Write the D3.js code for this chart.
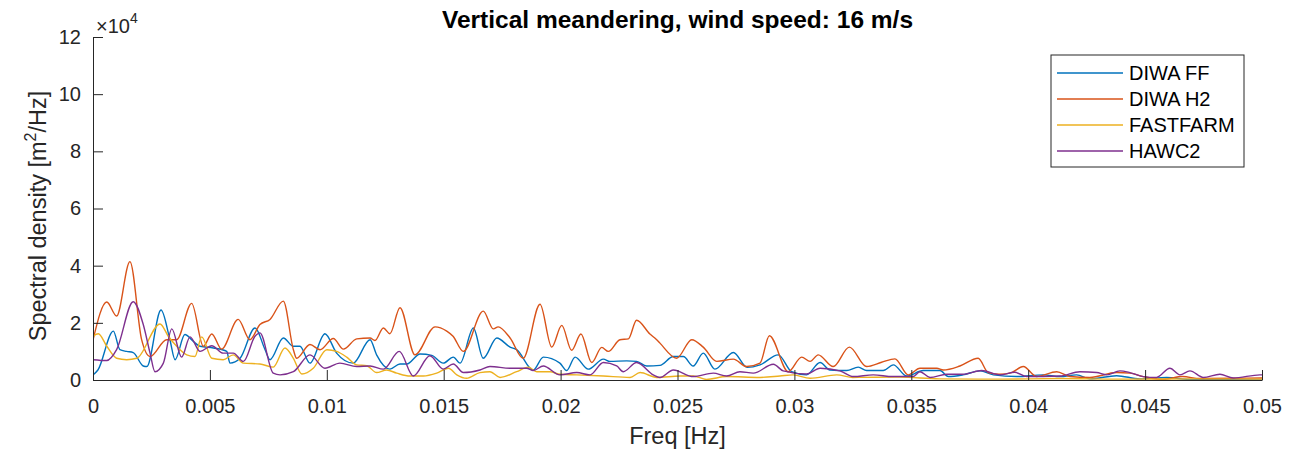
<!DOCTYPE html>
<html>
<head>
<meta charset="utf-8">
<script src="https://cdn.jsdelivr.net/npm/d3@7"></script>
<style>
  body { margin: 0; background: #fff; }
  svg { font-family: "Liberation Sans", Arial, sans-serif; }
</style>
</head>
<body>
<div id="chart"></div>
<script>
// frequencies in mHz, spectral density in units of 1e4 m^2/Hz
const seriesNames = ['DIWA FF', 'DIWA H2', 'FASTFARM', 'HAWC2'];
const seriesColors = ['#0072BD', '#D95319', '#EDB120', '#7E2F8E'];

const diwaFF = [
  [0, 0.18], [0.21, 0.35], [0.87, 1.71], [1.15, 1.06], [1.44, 1.0], [1.72, 0.96], [2.15, 0.49], [2.3, 0.47],
  [2.91, 2.45], [3.29, 1.41], [3.51, 0.71], [3.93, 1.59], [4.29, 1.35], [4.58, 1.18], [5.15, 1.12], [5.72, 1.0],
  [5.86, 0.59], [6.29, 0.76], [6.93, 1.82], [7.36, 1.06], [7.57, 0.71], [8.14, 1.47], [8.57, 1.18], [8.85, 1.18],
  [9.28, 0.59], [9.92, 1.62], [10.42, 0.94], [11.13, 0.59], [11.85, 1.41], [12.13, 0.88], [12.7, 0.38], [13.13, 0.56],
  [13.42, 0.56], [13.99, 0.91], [14.49, 0.86], [14.98, 0.59], [15.41, 0.8], [15.7, 0.59], [16.27, 1.82], [16.69, 0.76],
  [17.27, 1.47], [17.84, 1.15], [18.12, 1.06], [18.83, 0.35], [19.26, 0.8], [19.97, 0.59], [20.26, 0.33], [20.62, 0.8],
  [21.18, 0.38], [21.83, 0.73], [22.11, 0.65], [22.83, 0.67], [23.25, 0.65], [23.68, 0.49], [24.25, 0.51], [24.82, 0.82],
  [25.25, 0.82], [25.67, 0.49], [26.1, 0.94], [26.6, 0.38], [27.39, 0.96], [27.98, 0.44], [28.53, 0.53], [29.31, 0.88],
  [29.88, 0.29], [30.52, 0.18], [31.1, 0.61], [31.52, 0.35], [32.24, 0.33], [32.73, 0.45], [33.09, 0.33], [33.8, 0.33],
  [34.23, 0.53], [34.8, 0.14], [35.51, 0.33], [36.23, 0.33], [36.58, 0.12], [37.21, 0.18], [37.94, 0.32], [38.51, 0.18],
  [39.51, 0.12], [40.64, 0.18], [41.36, 0.12], [42.07, 0.18], [42.64, 0.04], [43.78, 0.15], [44.78, 0.04], [45.92, 0.09],
  [46.9, 0.02], [50, 0.0]
];

const diwaH2 = [
  [0, 1.4], [0.59, 2.73], [1.01, 2.24], [1.58, 4.14], [2.08, 1.41], [2.44, 0.82], [3.15, 1.41], [3.58, 1.41],
  [4.22, 2.68], [4.72, 1.18], [5.08, 1.61], [5.5, 1.08], [6.21, 2.12], [6.71, 1.41], [7.14, 1.94], [7.57, 2.12],
  [8.14, 2.76], [8.57, 1.06], [8.71, 0.76], [9.28, 1.24], [9.71, 1.06], [10.28, 1.45], [10.71, 1.08], [11.28, 1.44],
  [11.85, 1.47], [12.06, 1.38], [12.42, 1.82], [12.7, 1.62], [13.13, 2.53], [13.77, 0.88], [14.63, 1.86], [15.13, 1.71],
  [15.4, 1.53], [15.84, 1.0], [16.69, 2.41], [17.12, 1.79], [17.33, 1.86], [17.84, 1.47], [18.4, 0.76], [19.12, 2.65],
  [19.62, 1.15], [20.05, 1.91], [20.47, 1.04], [20.87, 1.61], [21.33, 0.61], [21.76, 1.14], [22.04, 1.0], [22.54, 1.41],
  [22.9, 1.44], [23.25, 2.09], [23.82, 1.61], [24.11, 1.41], [24.25, 1.29], [24.96, 0.76], [25.61, 1.41], [26.1, 1.15],
  [26.68, 0.65], [27.39, 0.73], [27.96, 0.47], [28.53, 0.59], [28.93, 1.55], [29.74, 0.29], [30.31, 0.8], [30.67, 0.65],
  [31.02, 0.88], [31.66, 0.47], [32.35, 1.15], [33.09, 0.47], [33.73, 0.62], [34.3, 0.74], [34.87, 0.18], [35.37, 0.41],
  [36.09, 0.41], [36.37, 0.35], [37.08, 0.49], [37.86, 0.76], [38.29, 0.26], [38.79, 0.2], [39.29, 0.26], [39.79, 0.47],
  [40.36, 0.12], [41.22, 0.29], [41.79, 0.12], [42.64, 0.09], [43.78, 0.26], [44.35, 0.24], [44.92, 0.12], [45.76, 0.02],
  [46.6, 0.12], [47.35, 0.05], [48.76, 0.06], [50, 0.07]
];

const fastFarm = [
  [0, 1.53], [0.23, 1.62], [0.59, 1.18], [1.01, 0.76], [1.44, 0.71], [1.87, 0.76], [2.87, 1.96], [3.22, 1.53],
  [3.58, 1.18], [4.01, 0.88], [4.36, 0.82], [4.65, 1.51], [5.08, 0.76], [5.57, 0.71], [6.0, 0.88], [6.43, 0.59],
  [7.14, 0.56], [7.71, 0.45], [8.21, 1.12], [8.57, 0.76], [8.93, 0.21], [9.42, 0.41], [10.0, 1.06], [10.42, 1.0],
  [10.85, 0.8], [11.28, 0.53], [11.71, 0.5], [12.13, 0.26], [12.56, 0.35], [12.99, 0.24], [13.56, 0.14], [14.13, 0.14],
  [14.7, 0.24], [15.2, 0.41], [15.56, 0.18], [15.98, 0.06], [16.55, 0.26], [16.98, 0.29], [17.41, 0.09], [18.12, 0.29],
  [18.62, 0.45], [18.98, 0.29], [19.55, 0.29], [19.97, 0.2], [20.69, 0.18], [21.83, 0.14], [22.97, 0.09], [23.4, 0.26],
  [24.11, 0.09], [25.11, 0.14], [25.67, 0.14], [26.24, 0.02], [27.1, 0.12], [28.53, 0.09], [29.38, 0.14], [29.95, 0.18],
  [30.67, 0.06], [31.81, 0.18], [32.5, 0.09], [34.5, 0.1], [36.2, 0.04], [38.8, 0.03], [41.4, 0.05], [43.9, 0.03],
  [47.3, 0.04], [50, 0.03]
];

const hawc2 = [
  [0, 0.71], [0.59, 0.68], [1.01, 1.06], [1.72, 2.74], [2.15, 1.94], [2.44, 0.94], [2.65, 0.29], [3.01, 0.59],
  [3.37, 1.79], [3.79, 0.8], [4.15, 1.51], [4.58, 1.0], [5.08, 1.2], [5.57, 0.94], [6.0, 0.94], [6.43, 0.65],
  [6.93, 1.53], [7.14, 1.65], [7.71, 0.24], [8.0, 0.18], [8.57, 0.29], [9.28, 0.88], [9.92, 0.41], [10.56, 0.59],
  [11.28, 0.47], [11.85, 0.49], [12.42, 0.38], [13.1, 1.0], [13.7, 0.14], [14.41, 0.85], [14.98, 0.38], [15.41, 0.56],
  [15.84, 0.26], [16.55, 0.35], [16.98, 0.47], [17.84, 0.41], [18.55, 0.41], [18.83, 0.33], [19.26, 0.49], [19.97, 0.18],
  [20.69, 0.26], [21.26, 0.18], [21.83, 0.61], [22.4, 0.49], [22.68, 0.29], [23.25, 0.61], [23.96, 0.18], [24.25, 0.09],
  [24.82, 0.35], [25.67, 0.12], [26.53, 0.24], [27.1, 0.14], [27.67, 0.29], [28.24, 0.24], [29.1, 0.55], [29.52, 0.32],
  [30.52, 0.21], [31.1, 0.41], [31.95, 0.32], [32.52, 0.12], [33.37, 0.18], [34.21, 0.12], [35.07, 0.12], [35.37, 0.29],
  [35.8, 0.09], [36.51, 0.2], [37.22, 0.2], [38.01, 0.33], [38.79, 0.18], [39.43, 0.27], [39.93, 0.12], [41.36, 0.14],
  [42.21, 0.29], [42.93, 0.26], [43.36, 0.18], [43.92, 0.32], [44.35, 0.26], [44.92, 0.12], [45.49, 0.09], [46.06, 0.41],
  [46.49, 0.18], [46.92, 0.32], [47.49, 0.09], [48.2, 0.2], [48.77, 0.07], [49.91, 0.18], [50, 0.18]
];

const xTicks = [0, 0.005, 0.01, 0.015, 0.02, 0.025, 0.03, 0.035, 0.04, 0.045, 0.05];
const yTicks = [0, 2, 4, 6, 8, 10, 12];

const allSeries = [diwaFF, diwaH2, fastFarm, hawc2];

const width = 1305;
const height = 450;
const margin = { top: 37, right: 43, bottom: 70, left: 93 };
const axisColor = '#262626';
const tickFont = 20;
const labelFont = 23.5;

const svg = d3.select('#chart').append('svg')
  .attr('width', width)
  .attr('height', height);

const x = d3.scaleLinear().domain([0, 0.05]).range([margin.left, width - margin.right]);
const y = d3.scaleLinear().domain([0, 12]).range([height - margin.bottom, margin.top]);

// clip so the curves stay inside the axes
svg.append('clipPath').attr('id', 'plot-clip')
  .append('rect')
  .attr('x', margin.left)
  .attr('y', margin.top)
  .attr('width', width - margin.left - margin.right)
  .attr('height', height - margin.top - margin.bottom);

const line = d3.line()
  .x(d => x(d[0] / 1000))
  .y(d => y(Math.max(0, d[1])))
  .curve(d3.curveMonotoneX);

const lines = svg.append('g').attr('clip-path', 'url(#plot-clip)');
allSeries.forEach((s, i) => {
  lines.append('path')
    .datum(s)
    .attr('fill', 'none')
    .attr('stroke', seriesColors[i])
    .attr('stroke-width', 1.4)
    .attr('d', line);
});

// axes, ticks pointing inwards like MATLAB
const xAxis = svg.append('g')
  .attr('transform', `translate(0,${y(0)})`)
  .call(d3.axisBottom(x).tickValues(xTicks).tickFormat(d => (d === 0 ? '0' : String(+d.toFixed(3))))
    .tickSizeInner(-10).tickSizeOuter(0).tickPadding(19));

const yAxis = svg.append('g')
  .attr('transform', `translate(${x(0)},0)`)
  .call(d3.axisLeft(y).tickValues(yTicks).tickSizeInner(-10).tickSizeOuter(0).tickPadding(12));

[xAxis, yAxis].forEach(a => {
  a.select('.domain').attr('stroke', axisColor).attr('stroke-width', 1);
  a.selectAll('.tick line').attr('stroke', axisColor);
  a.selectAll('.tick text')
    .attr('fill', axisColor)
    .style('font-size', `${tickFont}px`)
    .style('font-family', '"Liberation Sans", Arial, sans-serif');
});

// exponent label
const expo = svg.append('text')
  .attr('x', x(0) + 3)
  .attr('y', 33)
  .attr('fill', axisColor)
  .style('font-size', `${tickFont}px`);
expo.append('tspan').text('\u00d710');
expo.append('tspan').attr('dy', -10).style('font-size', '14px').text('4');

// title
svg.append('text')
  .attr('x', (x(0) + x(0.05)) / 2)
  .attr('y', 28)
  .attr('text-anchor', 'middle')
  .attr('font-weight', 'bold')
  .attr('fill', '#000')
  .style('font-size', '24.5px')
  .text('Vertical meandering, wind speed: 16 m/s');

// axis labels
svg.append('text')
  .attr('x', (x(0) + x(0.05)) / 2)
  .attr('y', 444)
  .attr('text-anchor', 'middle')
  .attr('fill', axisColor)
  .style('font-size', `${labelFont}px`)
  .text('Freq [Hz]');

const yLab = svg.append('text')
  .attr('transform', `translate(46,216) rotate(-90)`)
  .attr('text-anchor', 'middle')
  .attr('fill', axisColor)
  .style('font-size', `${labelFont}px`);
yLab.append('tspan').text('Spectral density [m');
yLab.append('tspan').attr('dy', -10).style('font-size', '16px').text('2');
yLab.append('tspan').attr('dy', 10).text('/Hz]');

// legend
const legend = svg.append('g').attr('transform', 'translate(1051,55)');
legend.append('rect')
  .attr('width', 193)
  .attr('height', 112)
  .attr('fill', '#fff')
  .attr('stroke', axisColor)
  .attr('stroke-width', 1);

seriesNames.forEach((name, i) => {
  const ly = 18 + i * 26;
  legend.append('line')
    .attr('x1', 6).attr('x2', 72)
    .attr('y1', ly).attr('y2', ly)
    .attr('stroke', seriesColors[i])
    .attr('stroke-width', 1.4);
  legend.append('text')
    .attr('x', 78)
    .attr('y', ly + 7)
    .attr('fill', '#000')
    .style('font-size', '20px')
    .text(name);
});
</script>
</body>
</html>
